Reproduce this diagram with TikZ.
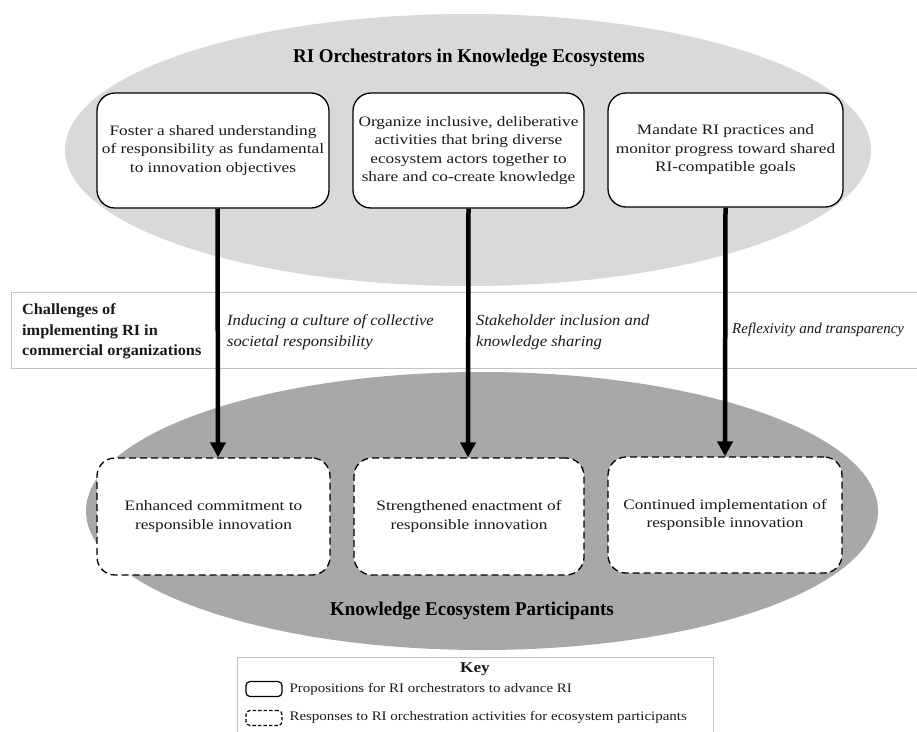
\documentclass[tikz,border=0pt]{standalone}
\usepackage{fontspec}
\setmainfont{Liberation Serif}
\newfontfamily\bodyfont[FakeStretch=1.2]{Liberation Serif}
\newfontfamily\titlefont[FakeStretch=0.97]{Liberation Serif}
\newfontfamily\itfont[FakeStretch=1.07]{Liberation Serif}
\newfontfamily\itnarrow{Liberation Serif}
\newfontfamily\chalfont[FakeStretch=1.05]{Liberation Serif}
\newfontfamily\keyfont[FakeStretch=1.15]{Liberation Serif}
\usetikzlibrary{arrows.meta}
\definecolor{ellTop}{HTML}{D9D9D9}
\definecolor{ellBot}{HTML}{A8A8A8}
\definecolor{bandLine}{HTML}{C4C4C4}
\definecolor{txt}{HTML}{1A1A1A}
\tikzset{
  boxtext/.style={font=\bodyfont\fontsize{14.4}{18.5}\selectfont, text=txt, align=center},
  propbox/.style={boxtext, draw=black, line width=1.3pt, rounded corners=18pt, fill=white, inner sep=0pt},
  respbox/.style={propbox, dashed, dash pattern=on 7pt off 4pt},
  arr/.style={line width=4.5pt, draw=black, -{Triangle[width=15pt,length=15pt]}},
  titletext/.style={font=\titlefont\bfseries\fontsize{19.5}{22}\selectfont, text=black, anchor=base},
  chaltext/.style={font=\itfont\itshape\fontsize{15.5}{21}\selectfont, text=txt, align=left, anchor=west},
  keytext/.style={font=\keyfont\fontsize{13}{15}\selectfont, text=txt, anchor=west},
  keyicon/.style={draw=black, line width=1.2pt, rounded corners=4pt, minimum width=36pt, minimum height=15pt, inner sep=0pt}
}
\begin{document}
\begin{tikzpicture}[x=1pt,y=-1pt]
\useasboundingbox (0,0) rectangle (917,731);
% ellipses
\fill[ellTop] (468,150) ellipse [x radius=403pt, y radius=136pt];
\fill[ellBot] (482,511) ellipse [x radius=396pt, y radius=139pt];
% challenges band
\draw[bandLine, line width=1pt, fill=white] (11,292) rectangle (940,368);
% top boxes
\node[propbox, minimum width=232pt, minimum height=115pt] (t1) at (213,150.5)
  {Foster a shared understanding\\ of responsibility as fundamental\\ to innovation objectives};
\node[propbox, minimum width=231pt, minimum height=115pt] (t2) at (468.5,150.5)
  {Organize inclusive, deliberative\\ activities that bring diverse\\ ecosystem actors together to\\ share and co-create knowledge};
\node[propbox, minimum width=235pt, minimum height=114pt] (t3) at (725.5,150)
  {Mandate RI practices and\\ monitor progress toward shared\\ RI-compatible goals};
% bottom boxes
\node[respbox, minimum width=233pt, minimum height=117pt] (b1) at (213.5,516.5)
  {Enhanced commitment to\\ responsible innovation};
\node[respbox, minimum width=230pt, minimum height=117pt] (b2) at (469,516.5)
  {Strengthened enactment of\\ responsible innovation};
\node[respbox, minimum width=234pt, minimum height=116pt] (b3) at (725,515)
  {Continued implementation of\\ responsible innovation};
% arrows
\draw[arr] ([xshift=4.5pt]t1.south) -- ([xshift=4.5pt]b1.north);
\draw[arr] (t2.south) -- ([xshift=-1pt]b2.north);
\draw[arr] (t3.south) -- (b3.north);
% titles
\node[titletext] (ttop) at (469,62) {RI Orchestrators in Knowledge Ecosystems};
\node[titletext] (tbot) at (472,615) {Knowledge Ecosystem Participants};
% challenges
\node[font=\chalfont\bfseries\fontsize{15.5}{20.5}\selectfont, text=txt, align=left, anchor=west, inner sep=0pt] (chal) at (22,331.5)
  {Challenges of\\ implementing RI in\\ commercial organizations};
\node[chaltext, inner sep=0pt] (c1) at (227,332.5) {Inducing a culture of collective\\ societal responsibility};
\node[chaltext, inner sep=0pt] (c2) at (476,332.5) {Stakeholder inclusion and\\ knowledge sharing};
\node[chaltext, font=\itnarrow\itshape\fontsize{15}{21}\selectfont, inner sep=0pt] (c3) at (732,330) {Reflexivity and transparency};
% key
\draw[bandLine, line width=1pt, fill=white] (237,657) rectangle (713,745);
\node[font=\keyfont\bfseries\fontsize{15}{17}\selectfont, text=txt] (keyt) at (475,669) {Key};
\node[keyicon] (k1) at (264,689) {};
\node[keyicon, dashed, dash pattern=on 3.5pt off 2pt] (k2) at (264,718) {};
\node[keytext] (k1t) at (286,689) {Propositions for RI orchestrators to advance RI};
\node[keytext] (k2t) at (286,717) {Responses to RI orchestration activities for ecosystem participants};
\end{tikzpicture}
\end{document}
